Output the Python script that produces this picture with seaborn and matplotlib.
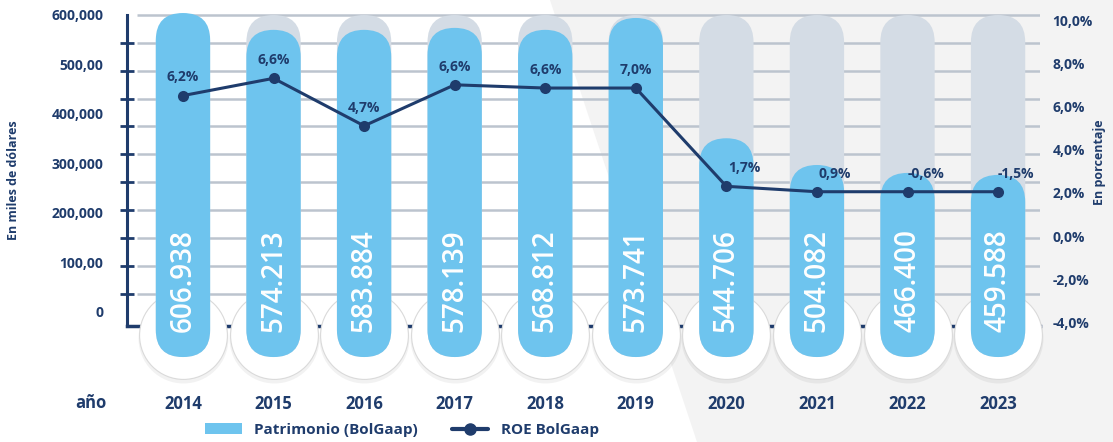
import numpy as np
import pandas as pd
import seaborn as sns
import matplotlib.pyplot as plt
from matplotlib.patches import FancyBboxPatch, Polygon, Patch
from matplotlib.lines import Line2D

# datos
anios = ['2014', '2015', '2016', '2017', '2018', '2019', '2020', '2021', '2022', '2023']
patrimonio_texto = ['606.938', '574.213', '583.884', '578.139', '568.812',
                    '573.741', '544.706', '504.082', '466.400', '459.588']
# altura con la que cada capsula aparece dibujada (miles de dolares)
patrimonio_dibujado = [604000, 570000, 570000, 574000, 570000,
                       594000, 351000, 297000, 281000, 277000]
fondo_capsula = [600000] * 10
roe_texto = ['6,2%', '6,6%', '4,7%', '6,6%', '6,6%', '7,0%', '1,7%', '0,9%', '-0,6%', '-1,5%']
# posicion con la que aparece dibujado cada punto (escala derecha, %)
roe_dibujado = [6.5, 7.3, 5.1, 7.0, 6.85, 6.85, 2.3, 2.05, 2.05, 2.05]

ticks_izq = [600000, 500000, 400000, 300000, 200000, 100000, 0]
ticks_izq_txt = ['600,000', '500,00', '400,000', '300,000', '200,000', '100,00', '0']
ticks_der = [10, 8, 6, 4, 2, 0, -2, -4]

AZUL = '#6ec4ee'
GRIS = '#d4dce5'
NAVY = '#1f3c6c'
GRID = '#bcc4ce'

W, H = 1113, 442
sns.set_style('white')
plt.rcParams['font.family'] = ['Open Sans', 'DejaVu Sans']

fig = plt.figure(figsize=(W / 100, H / 100), dpi=100)
fig.patch.set_facecolor('white')
# fondo gris en diagonal
fig.add_artist(Polygon([(550 / W, 1), (1, 1), (1, 0), (697 / W, 0)],
                       closed=True, transform=fig.transFigure,
                       facecolor='#f3f3f3', edgecolor='none', zorder=-10))

ax_l, ax_r, ax_t, ax_b = 127, 1040, 10, 385
ax = fig.add_axes([ax_l / W, 1 - ax_b / H, (ax_r - ax_l) / W, (ax_b - ax_t) / H])
ax.set_facecolor('none')

xlim = (-0.618, 9.463)
ylim = (-147500, 610100)
ylim2 = (-6.898, 10.463)

df = pd.DataFrame({'anio': anios, 'fondo': fondo_capsula,
                   'patrimonio': patrimonio_dibujado})
ancho = 0.6
sns.barplot(data=df, x='anio', y='fondo', color=GRIS, saturation=1, width=ancho, ax=ax)
sns.barplot(data=df, x='anio', y='patrimonio', color=AZUL, saturation=1, width=ancho, ax=ax)
ax.set_xlim(*xlim)
ax.set_ylim(*ylim)

# convertir las barras en capsulas redondeadas
px_x = (ax_r - ax_l) / (xlim[1] - xlim[0])
px_y = (ax_b - ax_t) / (ylim[1] - ylim[0])
aspecto = px_x / px_y
base = -91000
for p in list(ax.patches):
    x0, w, h = p.get_x(), p.get_width(), p.get_height()
    fc = p.get_facecolor()
    p.remove()
    ax.add_patch(FancyBboxPatch((x0, base), w, h - base,
                                boxstyle=f'round,pad=0,rounding_size={w / 2}',
                                mutation_aspect=aspecto, facecolor=fc,
                                edgecolor='none', zorder=3))

# lineas de guia
guias = [600000 - 56300 * i for i in range(11)]
ax.hlines(guias, xlim[0] + 10 / px_x, xlim[1], color=GRID, linewidth=1.8, zorder=0.5)

# burbujas blancas al pie de cada barra
xs = np.arange(len(anios))
sns.scatterplot(x=xs, y=np.full(len(anios), -53000.0), s=4200, color='black',
                alpha=0.05, linewidth=0, ax=ax, zorder=2.6, legend=False, clip_on=False)
sns.scatterplot(x=xs, y=np.full(len(anios), -46500.0), s=4000, color='white',
                edgecolor='#dadada', linewidth=0.8, ax=ax, zorder=2.7,
                legend=False, clip_on=False)

# etiquetas de patrimonio dentro de las barras
for i, txt in enumerate(patrimonio_texto):
    ax.text(i, -40000, txt, rotation=90, ha='center', va='bottom', color='white',
            fontsize=20, fontweight='semibold', zorder=5)

# eje izquierdo
for s in ['top', 'right']:
    ax.spines[s].set_visible(False)
ax.spines['left'].set_color(NAVY)
ax.spines['left'].set_linewidth(2.2)
ax.spines['left'].set_bounds(-28000, 600000)
ax.spines['bottom'].set_position(('data', -28000))
ax.spines['bottom'].set_color(NAVY)
ax.spines['bottom'].set_linewidth(2.5)
ax.set_yticks(ticks_izq)
ax.set_yticklabels(ticks_izq_txt)
ax.set_yticks(guias + [0], minor=True)
ax.tick_params(axis='y', which='major', length=0, pad=17, labelsize=10,
               labelcolor=NAVY)
for t in ax.get_yticklabels():
    t.set_fontweight('bold')
ax.tick_params(axis='y', which='minor', direction='inout', length=10, width=2,
               color=NAVY)
ax.set_xticks(xs)
ax.set_xticklabels(anios)
ax.tick_params(axis='x', length=0, pad=50, labelsize=12, labelcolor=NAVY)
for t in ax.get_xticklabels():
    t.set_fontweight('bold')
ax.set_xlabel('')
ax.set_ylabel('')

# eje derecho: ROE
ax2 = ax.twinx()
sns.lineplot(x=xs, y=roe_dibujado, ax=ax2, color=NAVY, linewidth=2.2, marker='o',
             markersize=8, markeredgewidth=0, zorder=6)
ax2.set_ylim(*ylim2)
ax2.set_xlim(*xlim)
ax2.set_yticks(ticks_der)
ax2.set_yticklabels([f'{v:.1f}%'.replace('.', ',') for v in ticks_der])
ax2.tick_params(axis='y', length=0, pad=9, labelsize=10, labelcolor=NAVY)
for t in ax2.get_yticklabels():
    t.set_fontweight('bold')
for s in ax2.spines.values():
    s.set_visible(False)
ax2.set_ylabel('')

for i, (v, txt) in enumerate(zip(roe_dibujado, roe_texto)):
    dx = 13 if i >= 6 else 0
    ax2.annotate(txt, (i, v), xytext=(dx, 8), textcoords='offset points',
                 ha='center', va='bottom', color=NAVY, fontsize=10,
                 fontweight='bold', zorder=7)

# titulos de ejes
fig.text(14 / W, 1 - 180 / H, 'En miles de dólares', rotation=90, ha='center',
         va='center', color=NAVY, fontsize=9, fontweight='bold')
fig.text(1100 / W, 1 - 162 / H, 'En porcentaje', rotation=90, ha='center',
         va='center', color=NAVY, fontsize=9, fontweight='bold')
fig.text(91 / W, 1 - 403 / H, 'año', ha='center', va='center', color=NAVY,
         fontsize=12, fontweight='bold')

# leyenda
handles = [Patch(facecolor=AZUL, edgecolor='none'),
           Line2D([0], [0], color=NAVY, linewidth=3, marker='o', markersize=8)]
fig.legend(handles, ['Patrimonio (BolGaap)', 'ROE BolGaap'], loc='center',
           bbox_to_anchor=(402 / W, 1 - 430 / H), ncol=2, frameon=False,
           labelcolor=NAVY, handlelength=2.4, columnspacing=2.2,
           prop={'weight': 'bold', 'size': 11})

fig.savefig('out.png', dpi=100)
